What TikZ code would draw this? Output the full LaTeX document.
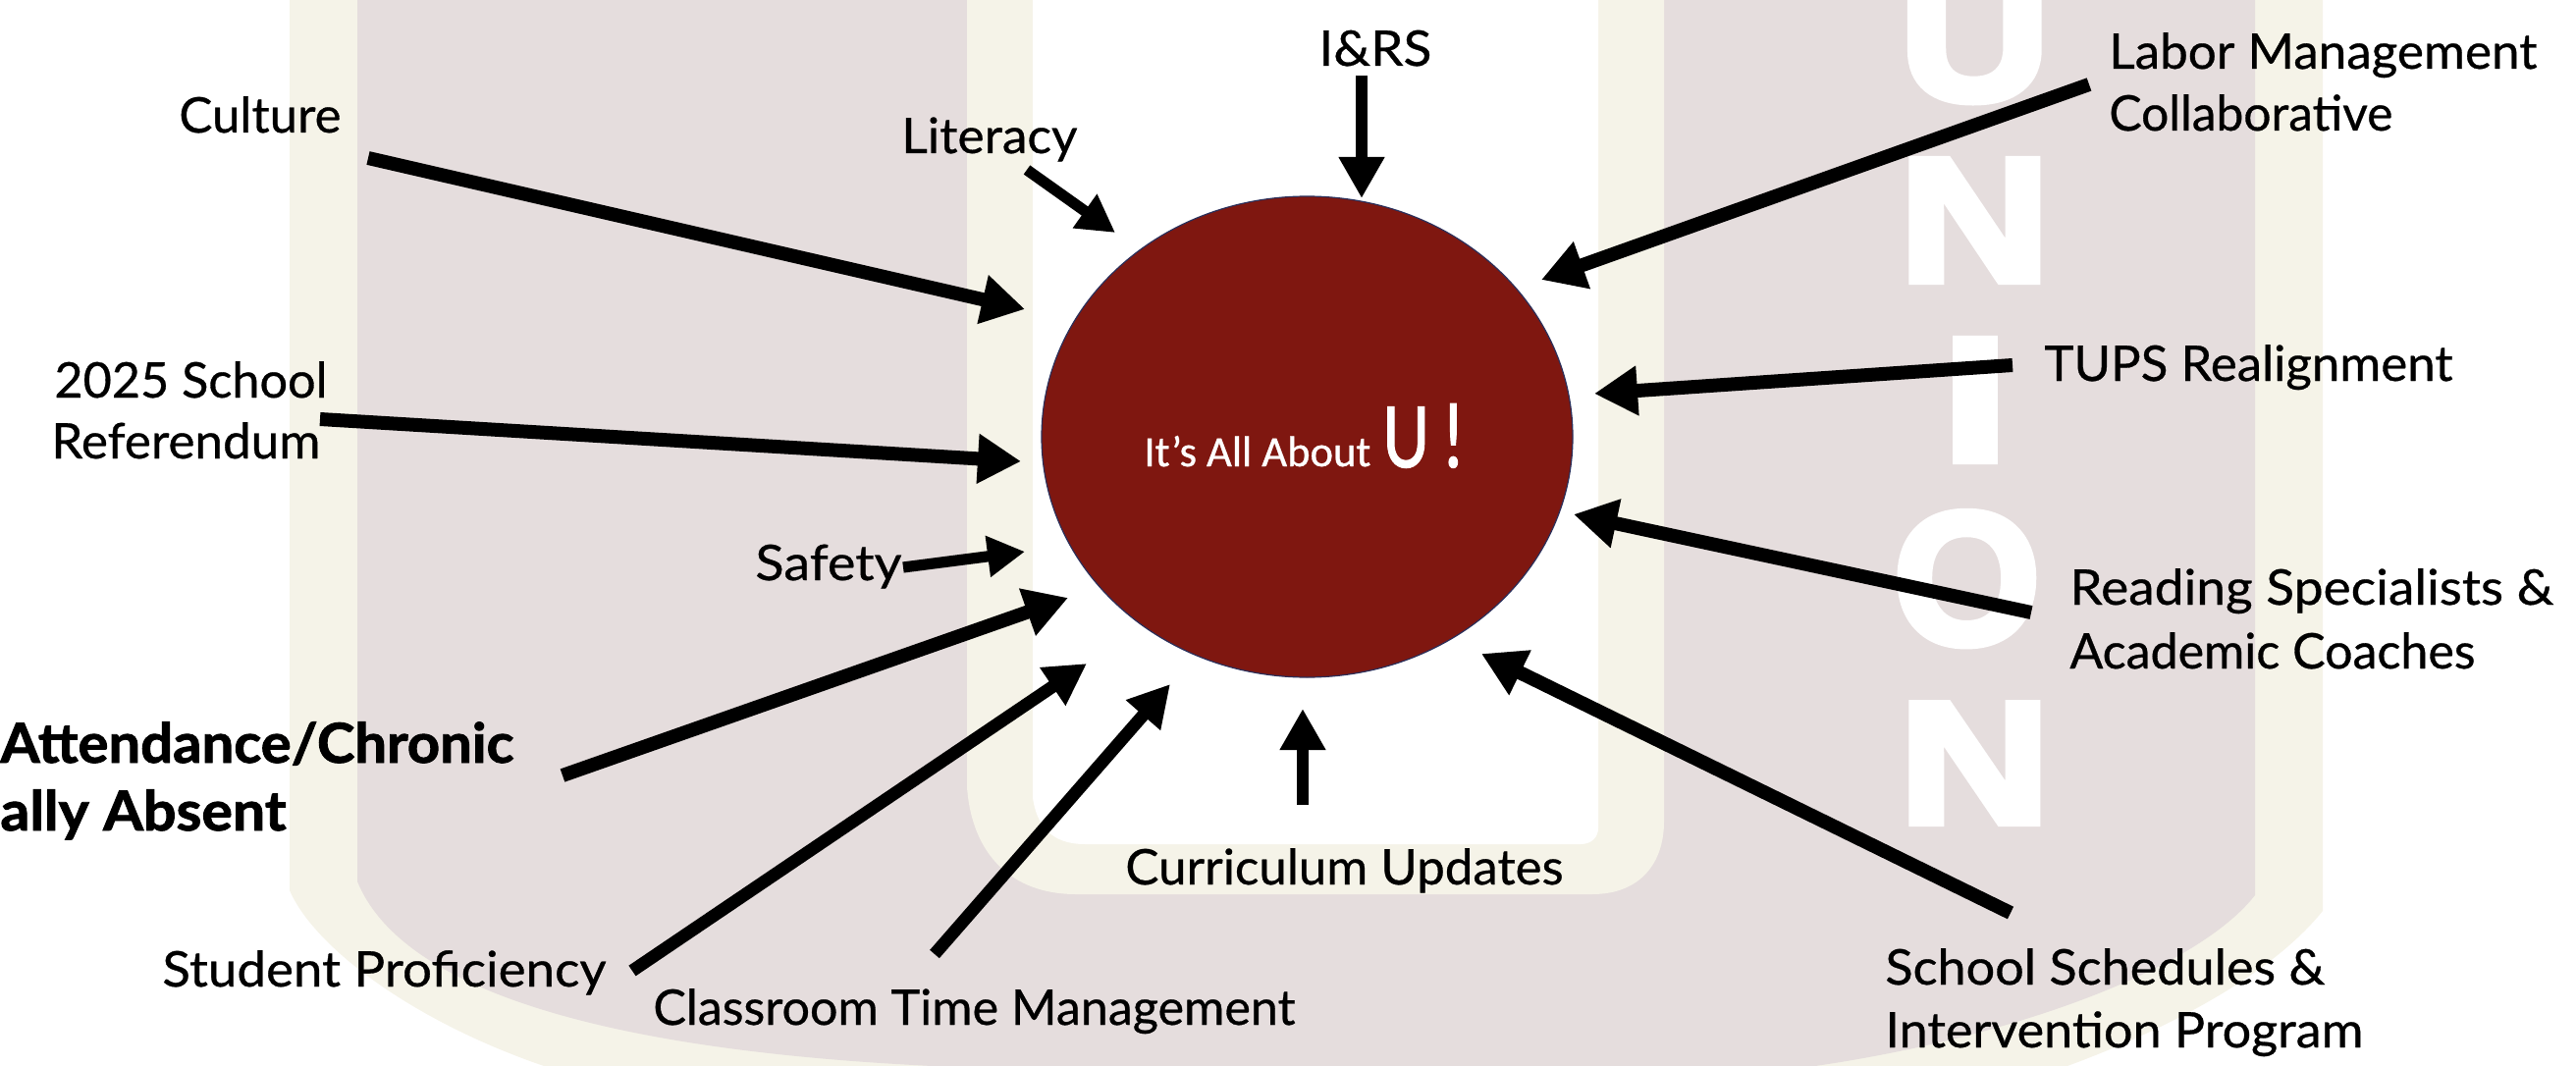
\documentclass[tikz,border=0pt]{standalone}
\usepackage{fontspec}
\usepackage{graphicx}
\usetikzlibrary{arrows.meta,shapes.geometric}
\setmainfont[FakeBold=0.6]{Lato}
\newfontfamily\boldlab[FakeBold=1.6]{Lato}
\newfontfamily\hubfont[FakeBold=0.8]{Carlito}
\newfontfamily\hubbig[FakeBold=1.2]{Carlito}
\newfontfamily\capsfont[FakeBold=4]{Liberation Sans}
\definecolor{creamband}{HTML}{F5F3E8}
\definecolor{taupeband}{HTML}{E5DDDD}
\definecolor{hubred}{HTML}{7F1710}
\definecolor{hubline}{HTML}{2A2F5A}
\tikzset{
  x=0.5pt,y=-0.5pt,
  lbl/.style={inner sep=0pt,anchor=base west,text=black,font=\fontsize{25}{28}\selectfont},
  lblb/.style={lbl,font=\boldlab\fontsize{28}{32}\selectfont\bfseries},
  arr/.style={line width=7pt,draw=black,-{Triangle[length=22pt,width=24pt]}},
  arrs/.style={line width=6.4pt,draw=black,-{Triangle[length=21pt,width=22pt]}},
  arrt/.style={line width=5.6pt,draw=black,-{Triangle[length=19pt,width=20pt]}},
  capl/.style={inner sep=0pt,text=white,font=\capsfont\bfseries},
}
\newcommand{\halfpx}[1]{\dimexpr#1pt/2\relax}
\newcommand{\fitw}[2]{\resizebox{\halfpx{#1}}{\height}{#2}}
\newcommand{\lab}[6][lbl]{\node[#1] (#2) at (#3,#4) {\fitw{#5}{#6}};}
\newcommand{\caplet}[6]{\node[capl,anchor=south west] (#1) at (#2,#3) {\resizebox{\halfpx{#4}}{\halfpx{#5}}{#6}};}
\newcommand{\arrowxy}[4][arr]{\coordinate (#2-s) at (#3); \coordinate (#2-t) at (#4); \draw[#1] (#2-s) -- (#2-t);}
\begin{document}
\begin{tikzpicture}
\useasboundingbox (0,0) rectangle (2624,1086);
\begin{scope}
\clip (0,0) rectangle (2624,1086);
% U-shaped band
\fill[creamband] (295,-10) -- (295,907) .. controls (320,965) and (420,1040) .. (554,1086)
  -- (554,1100) -- (2106,1100) -- (2106,1086) .. controls (2230,1040) and (2320,985) .. (2366,928) -- (2366,-10) -- cycle;
\fill[taupeband] (364,-10) -- (364,898) .. controls (410,1010) and (620,1070) .. (950,1086)
  -- (950,1100) -- (1849,1100) -- (1849,1086) .. controls (2060,1055) and (2240,985) .. (2297,912) -- (2297,-10) -- cycle;
\fill[creamband] (985,-10) -- (985,802) .. controls (990,870) and (1030,911) .. (1096,911)
  -- (1622,911) .. controls (1670,911) and (1695,880) .. (1695,837) -- (1695,-10) -- cycle;
\fill[white] (1052,-10) -- (1052,813) .. controls (1056,840) and (1070,860) .. (1105,860)
  -- (1610,860) .. controls (1622,860) and (1628,852) .. (1628,844) -- (1628,-10) -- cycle;
% UNION
\caplet{capu}{1934}{104}{154}{134}{U}
\caplet{capn}{1934}{287}{154}{124}{N}
\caplet{capi}{1977}{470}{69}{124}{I}
\caplet{capo}{1928}{658}{150}{134}{O}
\caplet{capnn}{1934}{839}{154}{122}{N}
\end{scope}
% hub
\node[draw=hubline,line width=0.6pt,fill=hubred,ellipse,minimum width=270.5pt,minimum height=245pt,inner sep=0pt] (hub) at (1331.5,445) {};
\node[inner sep=0pt,anchor=base west,text=white,font=\hubfont\fontsize{22}{26}\selectfont] (hubt) at (1165,475) {\fitw{231}{It’s All About}};
\node[inner sep=0pt,anchor=base west,text=white,font=\hubbig\fontsize{48}{54}\selectfont] (hubu) at (1408,476) {\fitw{84}{U\,!}};
% arrows
\arrowxy{cul}{375,161}{1044,315}
\arrowxy{ref}{326,427}{1040,470}
\arrowxy[arrt]{saf}{920,578}{1044,562}
\arrowxy{att}{573,790}{1088,609}
\arrowxy[arrs]{stu}{644,989}{1107,676}
\arrowxy[arrs]{cla}{952,972}{1192,697}
\arrowxy[arrs]{cur}{1327,820}{1327,722}
\arrowxy{sch}{2048,930}{1509,666}
\arrowxy{rea}{2069,624}{1603,524}
\arrowxy{tup}{2050,372}{1624,401}
\arrowxy{lab}{2128,86}{1570,285}
\arrowxy[arrs]{irs}{1387,77}{1387,202}
\arrowxy[arrt]{lit}{1046,173}{1136,237}
% labels
\lab{tculture}{182}{135}{165}{Culture}
\lab{tschool}{55}{405}{278}{2025 School}
\lab{tref}{52}{467}{274}{Referendum}
\lab{tlit}{918}{156}{179}{Literacy}
\lab{tirs}{1343}{67}{115}{I\&RS}
\lab{tlabor}{2148}{70}{436}{Labor Management}
\lab{tcoll}{2148}{133}{289}{Collaborative}
\lab{ttups}{2082}{388}{416}{TUPS Realignment}
\lab{tsaf}{769}{591}{149}{Safety}
\lab[lblb]{tatt}{0}{777}{523}{Attendance/Chronic}
\lab[lblb]{tally}{0}{846}{291}{ally Absent}
\lab{tstu}{165}{1005}{452}{Student Proficiency}
\lab{tcla}{665}{1044}{654}{Classroom Time Management}
\lab{tcur}{1146}{901}{446}{Curriculum Updates}
\lab{trea}{2108}{616}{493}{Reading Specialists \&}
\lab{taca}{2108}{681}{413}{Academic Coaches}
\lab{tsch}{1920}{1003}{448}{School Schedules \&}
\lab{tint}{1920}{1067}{487}{Intervention Program}
\end{tikzpicture}
\end{document}
